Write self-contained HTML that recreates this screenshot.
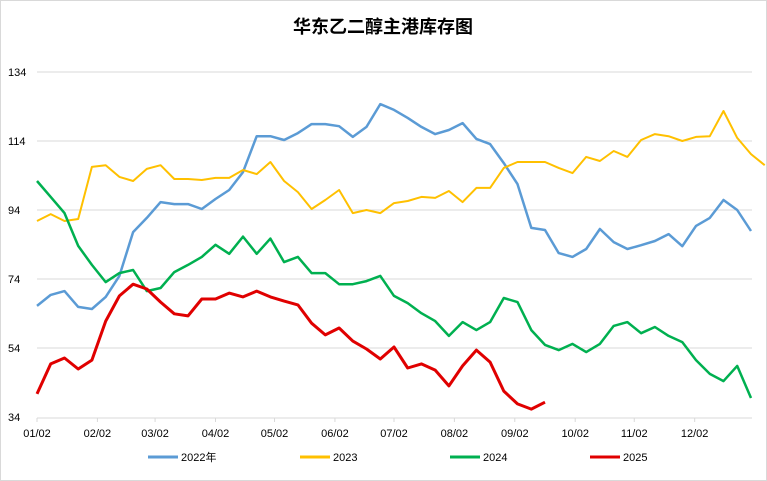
<!DOCTYPE html>
<html><head><meta charset="utf-8"><style>
html,body{margin:0;padding:0;background:#fff;}
svg{display:block;font-family:"Liberation Sans","Noto Sans CJK SC",sans-serif;}
</style></head><body>
<svg id="chart" width="767" height="481">
<rect x="0.5" y="0.5" width="766" height="480" fill="#fff" stroke="#d9d9d9"/>
<text x="383" y="33" text-anchor="middle" font-size="18" font-weight="bold" font-family="'Noto Sans CJK SC',sans-serif" fill="#000">华东乙二醇主港库存图</text>
<g id="grid"></g><g id="axes"></g><g id="series"></g><g id="legend"></g>
</svg>
<script>
const yTicks=[34,54,74,94,114,134];
const xLabels=["01/02","02/02","03/02","04/02","05/02","06/02","07/02","08/02","09/02","10/02","11/02","12/02"];
const xLabelWeeks=[0,4.4,8.6,13,17.3,21.7,26,30.4,34.8,39.2,43.5,47.9];
const seriesNames=["2022年","2023","2024","2025"];
const seriesColors=["#5b9bd5","#ffc000","#00b050","#e00000"];
const s2022=[66.2,69.4,70.5,65.9,65.3,68.8,74.9,87.6,91.7,96.3,95.7,95.7,94.3,97.2,99.8,105,115.4,115.4,114.3,116.3,118.9,118.9,118.3,115.2,118.1,124.7,123,120.7,118.1,116,117.2,119.2,114.6,113.1,107.6,101.5,88.8,88.2,81.5,80.4,82.7,88.5,84.7,82.7,83.8,85,87,83.5,89.4,91.7,96.9,94,87.9];
const s2023=[90.8,92.8,90.8,91.4,106.5,107,103.6,102.4,105.9,107,103,103,102.7,103.3,103.3,105.6,104.4,107.9,102.4,99.2,94.3,96.9,99.8,93.1,94,93.1,96,96.6,97.8,97.5,99.5,96.3,100.4,100.4,106.2,107.9,107.9,107.9,106.2,104.7,109.4,108.2,111.1,109.4,114.3,116,115.4,114,115.2,115.4,122.7,114.9,110.2,107];
const s2024=[102.4,97.8,93.1,83.6,78.1,73.1,75.7,76.6,70.5,71.4,76,78.1,80.4,83.9,81.3,86.3,81.3,85.7,78.9,80.4,75.7,75.7,72.5,72.5,73.4,74.9,69.1,67,64.1,61.8,57.5,61.5,59.2,61.5,68.5,67.3,59.2,54.9,53.4,55.2,52.8,55.2,60.4,61.5,58.3,60.1,57.5,55.7,50.5,46.5,44.4,48.8,39.5];
const s2025=[40.7,49.4,51.1,47.9,50.5,61.8,69.1,72.5,71.1,67.3,63.9,63.3,68.2,68.2,69.9,68.8,70.5,68.8,67.6,66.5,61.2,57.8,59.8,56,53.7,50.8,54.3,48.2,49.4,47.6,43,48.8,53.4,49.9,41.5,37.8,36.3,38.3];
const allSeries=[s2022,s2023,s2024,s2025];
const NS="http://www.w3.org/2000/svg";
const X0=37,XSTEP=13.73,Y0=417,YTOP=72,VMIN=34,VMAX=134;
function xScale(i){return X0+i*XSTEP;}
function yScale(v){return Y0-(v-VMIN)/(VMAX-VMIN)*(Y0-YTOP);}
function mk(tag,attrs,parent){const e=document.createElementNS(NS,tag);for(const k in attrs)e.setAttribute(k,attrs[k]);parent.appendChild(e);return e;}
const grid=document.getElementById('grid'),axes=document.getElementById('axes'),ser=document.getElementById('series'),leg=document.getElementById('legend');
yTicks.forEach(t=>{
  const y=yScale(t);
  if(t!==VMIN){const l=mk('line',{x1:X0,x2:752,y1:y,y2:y,stroke:'#d9d9d9','stroke-width':1},grid);
  
  }
  const tx=mk('text',{x:8,y:y+4,'font-size':11,fill:'#000'},axes);tx.textContent=t;
  
  
});
const ax=mk('line',{x1:X0,x2:752,y1:Y0+1,y2:Y0+1,stroke:'#d9d9d9','stroke-width':1},axes);


xLabels.forEach((lab,i)=>{
  const x=xScale(xLabelWeeks[i]);
  const tk=mk('line',{x1:x,x2:x,y1:Y0+1,y2:Y0+5,stroke:'#d9d9d9'},axes);
  
  
  const tx=mk('text',{x:x,y:437,'font-size':11,'text-anchor':'middle',fill:'#000'},axes);tx.textContent=lab;
  
  
});
allSeries.forEach((s,k)=>{
  const pts=s.map((v,i)=>xScale(i).toFixed(1)+','+yScale(v).toFixed(1)).join(' ');
  const p=mk('polyline',{points:pts,fill:'none',stroke:seriesColors[k],'stroke-width':k===3?3:(k===1?2:2.5),'stroke-linejoin':'round'},ser);
  
  
});
const legX=[148,300,450,590];
seriesNames.forEach((n,k)=>{
  const g=mk('g',{},leg);
  
  
  mk('line',{x1:legX[k],x2:legX[k]+30,y1:457,y2:457,stroke:seriesColors[k],'stroke-width':3},g);
  const t=mk('text',{x:legX[k]+33,y:461,'font-size':11,fill:'#000'},g);t.textContent=n;
});
</script>
</body></html>
